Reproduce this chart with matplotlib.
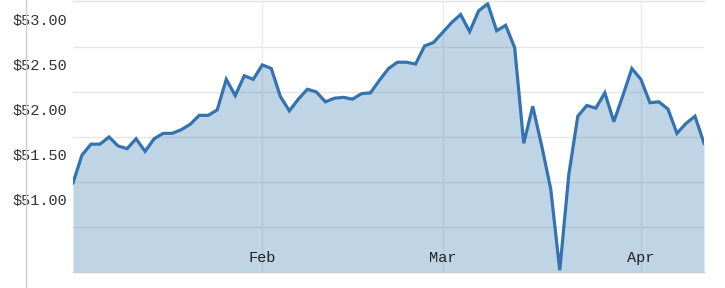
import matplotlib.pyplot as plt
from matplotlib.lines import Line2D
import numpy as np

# closing price per trading day
prices = [51.19, 51.50, 51.62, 51.62, 51.70, 51.60, 51.57, 51.68, 51.54, 51.68,
          51.74, 51.74, 51.78, 51.84, 51.94, 51.94, 52.00, 52.34, 52.16, 52.38,
          52.34, 52.50, 52.46, 52.15, 51.99, 52.12, 52.23, 52.20, 52.09, 52.13,
          52.14, 52.12, 52.18, 52.19, 52.33, 52.46, 52.53, 52.53, 52.51, 52.71,
          52.75, 52.86, 52.97, 53.06, 52.87, 53.10, 53.18, 52.88, 52.94, 52.69,
          51.63, 52.04, 51.60, 51.12, 50.22, 51.28, 51.93, 52.05, 52.02, 52.19,
          51.87, 52.16, 52.46, 52.34, 52.08, 52.09, 52.01, 51.74, 51.85, 51.93,
          51.63]
days = np.arange(len(prices))

# first trading day of each month (index into prices)
month_idx = [21, 41, 63]
month_labels = ['Feb', 'Mar', 'Apr']

price_ticks = [51.0, 51.5, 52.0, 52.5, 53.0]
price_labels = ['$51.00', '$51.50', '$52.00', '$52.50', '$53.00']
grid_levels = [50.7, 51.2, 51.7, 52.2, 52.7]

plt.rcParams['font.family'] = ['Liberation Mono', 'DejaVu Sans Mono']

fig = plt.figure(figsize=(7.25, 2.88), dpi=100)
ax = fig.add_axes([73 / 725, 16 / 288, 631 / 725, 271 / 288])

for g in grid_levels:
    ax.axhline(g, color='#e6e6e6', lw=1, zorder=0)
for m in month_idx:
    ax.axvline(m, color='#e8ecf0', lw=1, zorder=0)

ax.fill_between(days, prices, 50.0, color='#4682b4', alpha=0.34, lw=0, zorder=1)
ax.plot(days, prices, color='#3473b0', lw=2.3, zorder=2, solid_joinstyle='miter')

ax.set_xlim(0, len(prices) - 1)
ax.set_ylim(50.2, 53.21)

ax.set_yticks(price_ticks)
ax.set_yticklabels(price_labels, fontsize=11, color='#333333')
ax.tick_params(axis='y', length=0, pad=4)
ax.set_xticks([])

for m, lab in zip(month_idx, month_labels):
    ax.text(m, 0.05, lab, transform=ax.get_xaxis_transform(), ha='center',
            va='center', fontsize=11, color='#222222', zorder=3)

for s in ['left', 'right']:
    ax.spines[s].set_visible(False)
ax.spines['top'].set_color('#e4e4e4')
ax.spines['bottom'].set_color('#c4ccd6')
ax.spines['top'].set_linewidth(1)
ax.spines['bottom'].set_linewidth(1)

# long vertical rule on the far left
fig.add_artist(Line2D([25.5 / 725, 25.5 / 725], [0, 1], transform=fig.transFigure,
                      color='#cccccc', lw=1))

fig.savefig('out.png', dpi=100)
